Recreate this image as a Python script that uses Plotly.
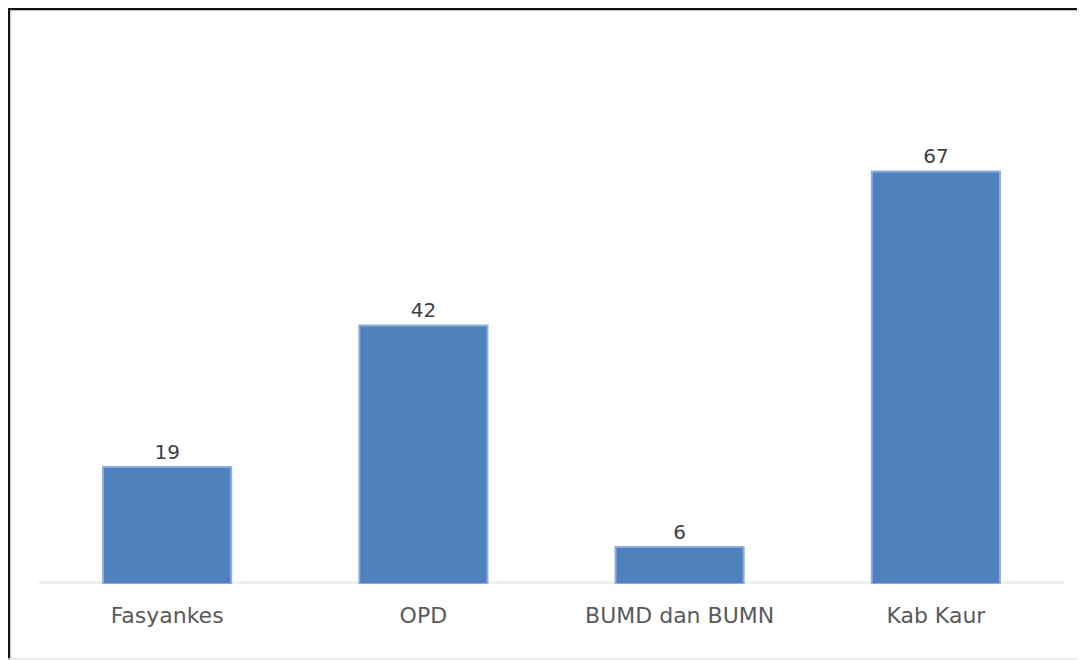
import plotly.graph_objects as go

categories = ["Fasyankes", "OPD", "BUMD dan BUMN", "Kab Kaur"]
values = [19, 42, 6, 67]

# page has an 8px body margin; figure sized so it fits the window exactly
W, H = 1077, 652
ML, MR, MT, MB = 31, 21, 20, 76
PW, PH = W - ML - MR, H - MT - MB

def px_x(x):
    return (x - ML) / PW

def px_y(y):
    return (H - MB - y) / PH

fig = go.Figure(go.Bar(
    x=categories,
    y=values,
    text=[str(v) for v in values],
    textposition="outside",
    textfont=dict(family="DejaVu Sans", size=20, color="#404040"),
    marker=dict(color="#4F81BD", line=dict(color="#8DAEDB", width=2)),
    cliponaxis=False,
))

shapes = [
    # baseline
    dict(type="line", xref="paper", yref="y", x0=0, x1=1, y0=0, y1=0,
         line=dict(color="#EFEFEF", width=6), layer="below"),
    # frame: top
    dict(type="line", xref="paper", yref="paper", x0=px_x(0), x1=px_x(W + 5),
         y0=px_y(1), y1=px_y(1), line=dict(color="#111111", width=2.5)),
    # frame: left
    dict(type="line", xref="paper", yref="paper", x0=px_x(1), x1=px_x(1),
         y0=px_y(0), y1=px_y(H + 5), line=dict(color="#111111", width=2.5)),
    # frame: bottom (light)
    dict(type="line", xref="paper", yref="paper", x0=px_x(0), x1=px_x(W + 5),
         y0=px_y(651), y1=px_y(651), line=dict(color="#E6E6E6", width=1.5)),
    # inner light edge
    dict(type="line", xref="paper", yref="paper", x0=px_x(3.2), x1=px_x(3.2),
         y0=px_y(2.5), y1=px_y(H), line=dict(color="#E8E8E8", width=1.5)),
]

fig.update_layout(
    width=W, height=H,
    margin=dict(l=ML, r=MR, t=MT, b=MB, pad=0),
    paper_bgcolor="white", plot_bgcolor="white",
    bargap=0.5,
    showlegend=False,
    shapes=shapes,
    xaxis=dict(
        showgrid=False, zeroline=False, showline=False,
        ticks="outside", ticklen=12, tickcolor="rgba(0,0,0,0)",
        tickfont=dict(family="DejaVu Sans", size=22, color="#595959"),
    ),
    yaxis=dict(
        range=[0, 90.3], visible=False, showgrid=False, zeroline=False,
    ),
)

fig.write_html("out.html")
